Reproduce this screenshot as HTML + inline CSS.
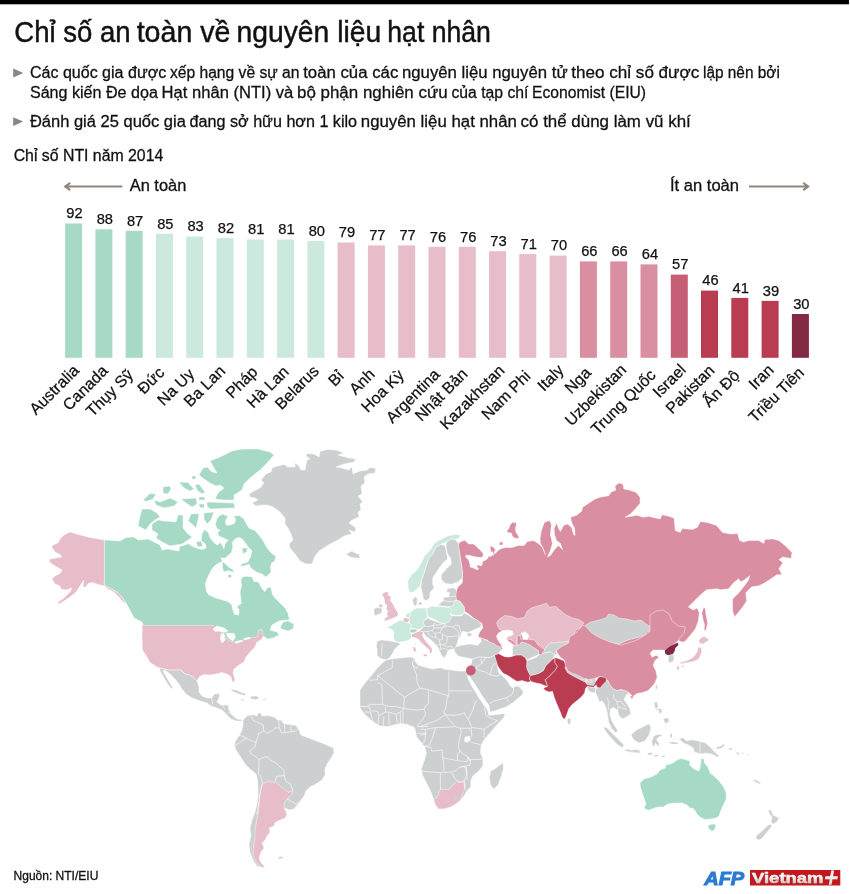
<!DOCTYPE html>
<html lang="vi"><head><meta charset="utf-8"><title>Chỉ số an toàn về nguyên liệu hạt nhân</title>
<style>html,body{margin:0;padding:0;background:#fff}body{width:850px;height:894px;overflow:hidden}svg{display:block}text{font-family:"Liberation Sans",sans-serif;fill:#111}</style></head><body>
<svg width="850" height="894" viewBox="0 0 850 894">
<rect x="0" y="0" width="849" height="4.3" fill="#000"/>
<text y="41.7" font-size="28.6" style="stroke:#111;stroke-width:0.45"><tspan x="14.3" textLength="116.3" lengthAdjust="spacingAndGlyphs">Chỉ số an</tspan> <tspan x="136.7" textLength="93.7" lengthAdjust="spacingAndGlyphs">toàn về</tspan> <tspan x="236.5" textLength="144.7" lengthAdjust="spacingAndGlyphs">nguyên liệu</tspan> <tspan x="387.3" textLength="103.6" lengthAdjust="spacingAndGlyphs">hạt nhân</tspan></text>
<path d="M13.2 68.6 L23.2 73 L13.2 77.4 Z" fill="#8f857d"/>
<text y="78" font-size="17.3" style="stroke:#111;stroke-width:0.3"><tspan x="29.9" textLength="136.3" lengthAdjust="spacingAndGlyphs">Các quốc gia được</tspan> <tspan x="169.9" textLength="129.6" lengthAdjust="spacingAndGlyphs">xếp hạng về sự an</tspan> <tspan x="303.2" textLength="95.1" lengthAdjust="spacingAndGlyphs">toàn của các</tspan> <tspan x="402" textLength="165.6" lengthAdjust="spacingAndGlyphs">nguyên liệu nguyên tử</tspan> <tspan x="571.3" textLength="128" lengthAdjust="spacingAndGlyphs">theo chỉ số được</tspan> <tspan x="703" textLength="76.8" lengthAdjust="spacingAndGlyphs">lập nên bởi</tspan></text>
<text y="97.5" font-size="17.3" style="stroke:#111;stroke-width:0.3"><tspan x="29.9" textLength="128" lengthAdjust="spacingAndGlyphs">Sáng kiến Đe dọa</tspan> <tspan x="161.6" textLength="131.7" lengthAdjust="spacingAndGlyphs">Hạt nhân (NTI) và</tspan> <tspan x="297" textLength="150.7" lengthAdjust="spacingAndGlyphs">bộ phận nghiên cứu</tspan> <tspan x="451.4" textLength="77" lengthAdjust="spacingAndGlyphs">của tạp chí</tspan> <tspan x="532.1" textLength="113.9" lengthAdjust="spacingAndGlyphs">Economist (EIU)</tspan></text>
<path d="M13.2 117.2 L23.2 121.6 L13.2 126 Z" fill="#8f857d"/>
<text y="127.2" font-size="17.3" style="stroke:#111;stroke-width:0.3"><tspan x="29.9" textLength="156" lengthAdjust="spacingAndGlyphs">Đánh giá 25 quốc gia</tspan> <tspan x="189.6" textLength="167.5" lengthAdjust="spacingAndGlyphs">đang sở hữu hơn 1 kilo</tspan> <tspan x="360.8" textLength="156.1" lengthAdjust="spacingAndGlyphs">nguyên liệu hạt nhân</tspan> <tspan x="520.6" textLength="170.2" lengthAdjust="spacingAndGlyphs">có thể dùng làm vũ khí</tspan></text>
<text x="13.7" y="161.1" font-size="16.8" textLength="149.6" lengthAdjust="spacingAndGlyphs" style="stroke:#111;stroke-width:0.3">Chỉ số NTI năm 2014</text>
<text x="129.7" y="191" font-size="16.8" textLength="56.6" lengthAdjust="spacingAndGlyphs" style="stroke:#111;stroke-width:0.3">An toàn</text>
<text x="670" y="191" font-size="16.8" textLength="69" lengthAdjust="spacingAndGlyphs" style="stroke:#111;stroke-width:0.3">Ít an toàn</text>
<g fill="none" stroke="#8f857d" stroke-width="2" stroke-linejoin="miter"><path d="M122.3 186.5H65.8M70.2 182.9L65.2 186.5L70.2 190.1"/><path d="M749 186.5H807.6M803.2 182.9L808.2 186.5L803.2 190.1"/></g>
<rect x="65.1" y="223.5" width="17" height="134.3" fill="#a7dac4"/>
<text x="74.5" y="218.3" font-size="14.7" text-anchor="middle" style="stroke:#111;stroke-width:0.25">92</text>
<text transform="translate(80.0 371.5) rotate(-45)" font-size="16" text-anchor="end" style="stroke:#111;stroke-width:0.25">Australia</text>
<rect x="95.4" y="229.3" width="17" height="128.5" fill="#a7dac4"/>
<text x="104.8" y="224.1" font-size="14.7" text-anchor="middle" style="stroke:#111;stroke-width:0.25">88</text>
<text transform="translate(108.8 371.8) rotate(-45)" font-size="16" text-anchor="end" style="stroke:#111;stroke-width:0.25">Canada</text>
<rect x="125.7" y="230.8" width="17" height="127.0" fill="#a7dac4"/>
<text x="135.1" y="225.6" font-size="14.7" text-anchor="middle" style="stroke:#111;stroke-width:0.25">87</text>
<text transform="translate(134.1 375.9) rotate(-45)" font-size="16" text-anchor="end" style="stroke:#111;stroke-width:0.25">Thụy Sỹ</text>
<rect x="155.9" y="233.7" width="17" height="124.1" fill="#cce9dd"/>
<text x="165.3" y="228.5" font-size="14.7" text-anchor="middle" style="stroke:#111;stroke-width:0.25">85</text>
<text transform="translate(165.3 373.5) rotate(-45)" font-size="16" text-anchor="end" style="stroke:#111;stroke-width:0.25">Đức</text>
<rect x="186.2" y="236.6" width="17" height="121.2" fill="#cce9dd"/>
<text x="195.6" y="231.4" font-size="14.7" text-anchor="middle" style="stroke:#111;stroke-width:0.25">83</text>
<text transform="translate(195.3 375.1) rotate(-45)" font-size="16" text-anchor="end" style="stroke:#111;stroke-width:0.25">Na Uy</text>
<rect x="216.5" y="238.1" width="17" height="119.7" fill="#cce9dd"/>
<text x="225.9" y="232.9" font-size="14.7" text-anchor="middle" style="stroke:#111;stroke-width:0.25">82</text>
<text transform="translate(226.2 372.0) rotate(-45)" font-size="16" text-anchor="end" style="stroke:#111;stroke-width:0.25">Ba Lan</text>
<rect x="246.8" y="239.5" width="17" height="118.3" fill="#cce9dd"/>
<text x="256.2" y="234.3" font-size="14.7" text-anchor="middle" style="stroke:#111;stroke-width:0.25">81</text>
<text transform="translate(258.6 372.9) rotate(-45)" font-size="16" text-anchor="end" style="stroke:#111;stroke-width:0.25">Pháp</text>
<rect x="277.1" y="239.5" width="17" height="118.3" fill="#cce9dd"/>
<text x="286.5" y="234.3" font-size="14.7" text-anchor="middle" style="stroke:#111;stroke-width:0.25">81</text>
<text transform="translate(289.8 372.6) rotate(-45)" font-size="16" text-anchor="end" style="stroke:#111;stroke-width:0.25">Hà Lan</text>
<rect x="307.4" y="241.0" width="17" height="116.8" fill="#cce9dd"/>
<text x="316.8" y="235.8" font-size="14.7" text-anchor="middle" style="stroke:#111;stroke-width:0.25">80</text>
<text transform="translate(319.8 372.1) rotate(-45)" font-size="16" text-anchor="end" style="stroke:#111;stroke-width:0.25">Belarus</text>
<rect x="337.6" y="242.5" width="17" height="115.3" fill="#e6bdc9"/>
<text x="347.0" y="237.3" font-size="14.7" text-anchor="middle" style="stroke:#111;stroke-width:0.25">79</text>
<text transform="translate(344.7 377.1) rotate(-45)" font-size="16" text-anchor="end" style="stroke:#111;stroke-width:0.25">Bỉ</text>
<rect x="367.9" y="245.4" width="17" height="112.4" fill="#e6bdc9"/>
<text x="377.3" y="240.2" font-size="14.7" text-anchor="middle" style="stroke:#111;stroke-width:0.25">77</text>
<text transform="translate(375.9 375.3) rotate(-45)" font-size="16" text-anchor="end" style="stroke:#111;stroke-width:0.25">Anh</text>
<rect x="398.2" y="245.4" width="17" height="112.4" fill="#e6bdc9"/>
<text x="407.6" y="240.2" font-size="14.7" text-anchor="middle" style="stroke:#111;stroke-width:0.25">77</text>
<text transform="translate(404.9 376.2) rotate(-45)" font-size="16" text-anchor="end" style="stroke:#111;stroke-width:0.25">Hoa Kỳ</text>
<rect x="428.5" y="246.8" width="17" height="111.0" fill="#e6bdc9"/>
<text x="437.9" y="241.6" font-size="14.7" text-anchor="middle" style="stroke:#111;stroke-width:0.25">76</text>
<text transform="translate(440.9 375.5) rotate(-45)" font-size="16" text-anchor="end" style="stroke:#111;stroke-width:0.25">Argentina</text>
<rect x="458.8" y="246.8" width="17" height="111.0" fill="#e6bdc9"/>
<text x="468.2" y="241.6" font-size="14.7" text-anchor="middle" style="stroke:#111;stroke-width:0.25">76</text>
<text transform="translate(468.6 374.9) rotate(-45)" font-size="16" text-anchor="end" style="stroke:#111;stroke-width:0.25">Nhật Bản</text>
<rect x="489.1" y="251.2" width="17" height="106.6" fill="#e6bdc9"/>
<text x="498.5" y="246.0" font-size="14.7" text-anchor="middle" style="stroke:#111;stroke-width:0.25">73</text>
<text transform="translate(505.6 371.4) rotate(-45)" font-size="16" text-anchor="end" style="stroke:#111;stroke-width:0.25">Kazakhstan</text>
<rect x="519.3" y="254.1" width="17" height="103.7" fill="#e6bdc9"/>
<text x="528.7" y="248.9" font-size="14.7" text-anchor="middle" style="stroke:#111;stroke-width:0.25">71</text>
<text transform="translate(531.5 377.3) rotate(-45)" font-size="16" text-anchor="end" style="stroke:#111;stroke-width:0.25">Nam Phi</text>
<rect x="549.6" y="255.6" width="17" height="102.2" fill="#e6bdc9"/>
<text x="559.0" y="250.4" font-size="14.7" text-anchor="middle" style="stroke:#111;stroke-width:0.25">70</text>
<text transform="translate(564.7 371.2) rotate(-45)" font-size="16" text-anchor="end" style="stroke:#111;stroke-width:0.25">Italy</text>
<rect x="579.9" y="261.4" width="17" height="96.4" fill="#d98ea1"/>
<text x="589.3" y="256.2" font-size="14.7" text-anchor="middle" style="stroke:#111;stroke-width:0.25">66</text>
<text transform="translate(592.0 373.8) rotate(-45)" font-size="16" text-anchor="end" style="stroke:#111;stroke-width:0.25">Nga</text>
<rect x="610.2" y="261.4" width="17" height="96.4" fill="#d98ea1"/>
<text x="619.6" y="256.2" font-size="14.7" text-anchor="middle" style="stroke:#111;stroke-width:0.25">66</text>
<text transform="translate(627.4 370.8) rotate(-45)" font-size="16" text-anchor="end" style="stroke:#111;stroke-width:0.25">Uzbekistan</text>
<rect x="640.5" y="264.4" width="17" height="93.4" fill="#d98ea1"/>
<text x="649.9" y="259.2" font-size="14.7" text-anchor="middle" style="stroke:#111;stroke-width:0.25">64</text>
<text transform="translate(656.7 376.1) rotate(-45)" font-size="16" text-anchor="end" style="stroke:#111;stroke-width:0.25">Trung Quốc</text>
<rect x="670.8" y="274.6" width="17" height="83.2" fill="#c65f75"/>
<text x="680.2" y="269.4" font-size="14.7" text-anchor="middle" style="stroke:#111;stroke-width:0.25">57</text>
<text transform="translate(686.8 370.8) rotate(-45)" font-size="16" text-anchor="end" style="stroke:#111;stroke-width:0.25">Israel</text>
<rect x="701.0" y="290.6" width="17" height="67.2" fill="#b93c50"/>
<text x="710.4" y="285.4" font-size="14.7" text-anchor="middle" style="stroke:#111;stroke-width:0.25">46</text>
<text transform="translate(715.6 371.4) rotate(-45)" font-size="16" text-anchor="end" style="stroke:#111;stroke-width:0.25">Pakistan</text>
<rect x="731.3" y="297.9" width="17" height="59.9" fill="#b93c50"/>
<text x="740.7" y="292.7" font-size="14.7" text-anchor="middle" style="stroke:#111;stroke-width:0.25">41</text>
<text transform="translate(740.6 376.5) rotate(-45)" font-size="16" text-anchor="end" style="stroke:#111;stroke-width:0.25">Ấn Độ</text>
<rect x="761.6" y="300.9" width="17" height="56.9" fill="#b93c50"/>
<text x="771.0" y="295.7" font-size="14.7" text-anchor="middle" style="stroke:#111;stroke-width:0.25">39</text>
<text transform="translate(774.7 370.9) rotate(-45)" font-size="16" text-anchor="end" style="stroke:#111;stroke-width:0.25">Iran</text>
<rect x="791.9" y="314.0" width="17" height="43.8" fill="#822944"/>
<text x="801.3" y="308.8" font-size="14.7" text-anchor="middle" style="stroke:#111;stroke-width:0.25">30</text>
<text transform="translate(805.0 373.7) rotate(-45)" font-size="16" text-anchor="end" style="stroke:#111;stroke-width:0.25">Triều Tiên</text>
<g id="map" stroke="#fff" stroke-width="0.45" stroke-linejoin="round" fill-rule="evenodd">
<path fill="#d98ea1" d="M509.3,532.7 511.6,533.2 512.1,536.0 514.5,537.9 517.8,538.4 519.2,537.4 517.8,535.1 515.9,532.2 515.4,528.5 516.4,524.7 515.9,522.4 512.6,522.4 510.2,524.7 508.8,528.5 506.9,530.8 507.4,532.2ZM545.4,554.6 542.4,547.5 538.3,543.5 533.3,540.5 527.3,541.5 524.2,545.5 518.2,545.5 512.2,547.5 506.1,547.5 501.1,548.6 498.1,550.6 494.7,553.9 494.2,552.0 495.6,550.1 494.2,548.2 493.2,547.4 493.0,546.5 492.4,546.7 491.9,546.3 490.0,546.8 490.4,547.4 490.0,547.5 491.0,552.6 492.6,551.5 492.8,552.0 493.7,554.7 490.0,556.6 488.0,556.6 488.0,558.6 487.6,558.5 484.8,560.4 482.0,561.8 482.5,564.2 481.0,566.0 478.2,565.1 476.3,566.0 478.7,568.6 477.3,570.0 473.5,568.1 470.2,567.0 469.8,563.2 468.4,559.5 465.5,557.1 466.0,555.2 468.8,555.2 472.6,556.2 476.3,557.1 481.0,557.6 483.4,555.7 482.9,552.9 480.1,550.1 476.3,546.3 473.5,544.0 468.8,544.0 466.5,542.1 465.1,540.2 462.3,541.1 459.4,542.6 458.0,545.4 459.3,551.3 460.8,560.7 462.4,571.7 462.4,582.7 457.7,587.3 455.4,593.6 456.1,599.9 460.1,601.4 464.0,606.9 464.8,611.6 468.7,614.0 473.4,617.9 478.1,621.0 482.0,623.4 482.8,628.1 479.6,632.0 478.1,636.7 482.8,639.0 488.0,640.3 488.0,650.1 650.0,650.1 663.2,650.1 666.1,650.1 670.1,647.3 674.2,644.2 678.2,640.2 682.2,642.2 685.2,641.2 690.3,635.2 695.3,629.1 698.3,621.1 699.3,613.0 697.3,608.0 693.3,610.0 688.3,607.0 694.3,600.9 700.4,594.9 706.4,589.8 716.5,588.8 720.5,589.8 728.6,588.8 733.6,582.8 738.6,578.8 740.6,581.8 744.7,579.8 749.7,575.7 748.7,579.8 743.7,586.8 738.6,592.9 732.6,598.9 732.6,611.0 734.6,617.0 738.6,612.0 742.7,607.0 746.7,600.9 745.7,592.9 748.7,589.8 751.7,586.8 758.8,585.8 764.8,582.8 770.9,578.8 776.9,574.7 781.9,574.7 778.9,568.7 782.9,562.7 778.9,559.6 782.9,557.0 791.0,558.6 792.0,552.6 785.0,545.5 778.9,540.5 772.9,538.9 764.8,539.5 763.8,543.5 758.8,540.5 748.7,540.5 743.7,542.1 739.6,540.5 737.6,533.4 730.6,534.1 722.5,532.4 716.5,525.4 708.4,522.8 700.4,521.4 697.3,527.4 692.3,529.4 682.2,528.4 680.2,532.4 675.2,530.4 674.2,518.3 669.1,516.3 662.1,514.7 660.1,518.9 651.0,516.9 649.1,516.3 643.1,517.3 637.0,515.3 631.0,516.3 625.0,517.3 630.0,514.3 635.0,509.3 640.1,503.2 640.1,497.2 636.0,492.2 629.0,490.1 623.9,489.1 622.9,484.1 618.9,483.1 614.9,486.1 615.9,490.1 610.9,492.2 608.8,495.8 599.8,497.2 594.7,499.2 588.7,503.2 582.7,507.3 581.6,511.3 576.6,515.3 570.6,517.3 571.6,522.4 574.6,528.4 575.0,535.5 573.6,534.5 571.6,527.4 567.5,524.0 563.5,525.4 560.5,531.4 558.5,528.4 556.5,522.8 554.1,528.4 554.5,534.5 556.5,540.5 560.5,543.5 562.5,549.6 558.5,545.5 554.5,549.6 550.4,555.6 547.4,557.0 550.4,550.6 552.4,543.5 550.4,534.5 551.4,524.4 549.4,520.4 544.4,522.4 541.4,530.4 540.0,538.5 540.4,543.5 542.8,547.5ZM503.1,541.5 499.1,542.5 499.7,545.5 502.5,544.9Z"/>
<path fill="#e6bdc9" d="M142.4,622.0 142.0,636.0 142.4,650.0 147.0,657.0 150.0,662.4 157.0,667.0 160.0,668.0 169.0,670.0 181.0,670.0 185.0,674.0 190.0,675.0 194.0,678.0 197.0,681.0 199.0,677.0 204.0,674.4 210.0,675.0 216.0,674.0 222.0,672.4 228.0,674.4 231.0,677.0 232.0,681.0 234.0,682.4 235.0,679.0 233.0,673.0 234.0,669.0 239.0,665.0 244.0,662.0 246.0,657.0 251.0,651.0 255.0,647.0 257.0,642.0 261.0,640.0 263.0,637.0 270.0,622.0Z"/>
<path fill="#cdd0d1" d="M423.8,620.7 422.8,622.8 424.4,626.0 422.8,627.6 419.6,630.8 422.8,631.8 425.4,635.5 427.5,637.6 430.7,639.8 433.9,642.4 436.5,645.6 439.2,649.3 440.8,651.9 442.4,655.6 444.5,657.8 446.6,653.5 447.6,650.9 450.8,649.3 453.5,649.3 456.1,647.2 457.2,642.9 458.8,638.7 459.3,637.6 460.9,635.5 461.4,632.4 463.5,631.3 467.8,632.4 469.9,631.8 474.1,629.7 478.4,628.1 481.5,626.0 480.5,622.8 476.2,619.6 472.0,617.5 467.8,614.9 464.1,612.8 461.9,615.9 457.2,615.9 450.8,615.9 447.1,617.5 445.5,621.8 443.9,623.9 439.2,622.8 433.9,620.7 430.2,619.6 428.1,618.1Z"/>
<path fill="#cdd0d1" stroke="none" d="M563.3,664.7 563.3,669.6 568.2,675.4 576.5,680.4 586.4,685.3 595.4,686.1 595.4,677.6 586.4,677.6 578.1,673.8 569.9,669.6Z"/>
<path fill="#cdd0d1" d="M249.0,494.0 250.0,497.0 255.0,498.0 258.0,500.0 252.0,503.0 256.0,506.0 262.0,505.0 267.0,505.0 273.0,507.0 280.0,512.0 285.0,518.0 285.0,524.0 288.0,528.0 291.0,534.0 293.0,540.0 289.0,544.0 290.0,548.0 295.0,554.0 300.0,561.0 306.0,564.0 312.0,564.0 315.0,556.0 319.0,551.0 324.0,548.0 330.0,544.0 338.0,540.0 344.0,536.0 352.0,534.0 349.0,530.0 355.0,532.0 356.0,528.0 349.0,523.0 352.0,520.0 359.0,517.0 358.0,512.0 361.0,510.0 360.0,504.0 363.0,502.0 358.0,496.0 362.0,494.0 361.0,486.0 365.0,483.0 364.0,477.0 368.0,474.0 375.0,473.0 375.6,468.0 370.0,467.6 367.0,470.0 360.0,471.0 353.0,474.0 352.0,467.0 349.0,470.0 342.0,468.0 336.0,467.0 344.0,464.0 354.0,462.0 355.6,459.0 349.0,458.0 338.0,455.0 344.0,453.0 336.0,450.0 327.0,449.6 320.0,451.6 319.0,457.0 314.0,454.0 307.0,453.6 306.0,456.0 310.0,459.0 307.0,460.0 305.0,470.0 301.0,470.0 299.0,466.0 295.0,463.0 295.0,467.0 287.0,467.0 285.0,464.4 277.0,466.0 272.0,468.0 271.0,472.0 266.0,474.0 261.0,480.0 264.0,483.0 260.0,488.0 254.0,491.0Z"/>
<path fill="#cdd0d1" d="M346.0,554.0 350.0,557.0 355.0,558.0 360.0,558.0 359.0,554.0 355.0,553.0 352.0,551.0Z"/>
<path fill="#cdd0d1" d="M160.0,668.0 159.6,670.0 163.0,676.0 167.0,683.0 171.0,688.4 173.0,688.0 171.0,685.0 167.0,678.0 163.0,671.0 165.0,670.0 170.0,674.0 175.0,679.0 179.0,684.0 182.0,689.0 186.0,694.0 192.0,698.0 200.0,701.0 207.0,703.0 211.0,706.0 217.0,708.0 222.0,710.0 226.0,714.0 231.0,719.0 236.0,721.0 241.6,721.0 242.0,719.6 237.0,719.0 232.0,715.0 229.0,710.0 228.0,705.0 221.0,705.0 217.0,702.0 219.0,698.0 220.0,693.6 214.0,694.0 212.0,698.0 207.0,698.0 202.0,696.0 199.0,692.0 199.0,687.0 197.0,681.0 194.0,678.0 190.0,675.0 185.0,674.0 181.0,670.0 169.0,670.0Z"/>
<path fill="#cdd0d1" d="M230.0,689.0 233.0,691.6 239.0,694.0 245.0,695.6 246.0,694.0 242.0,692.4 236.0,690.0Z"/>
<path fill="#cdd0d1" d="M250.0,696.4 251.0,699.0 256.0,699.6 260.0,698.0 256.0,696.0Z"/>
<path fill="#cdd0d1" d="M241.0,699.0 241.0,700.4 244.0,700.4 244.0,699.0Z"/>
<path fill="#cdd0d1" d="M263.0,699.0 263.0,700.2 266.0,700.2 266.0,699.0Z"/>
<path fill="#cdd0d1" d="M243.0,720.0 243.0,725.0 242.0,730.0 239.0,736.0 236.0,740.0 234.4,745.0 236.0,750.0 240.0,756.0 245.0,764.0 250.0,769.0 256.0,774.0 257.6,780.0 258.0,788.0 258.0,796.0 257.0,804.0 255.0,812.0 252.0,820.0 250.0,828.0 251.0,836.0 249.0,844.0 250.0,852.0 253.0,860.0 257.0,866.0 262.0,867.6 265.0,867.0 261.0,863.0 259.0,858.0 261.0,852.0 264.0,848.0 262.0,843.0 265.0,840.0 267.0,836.0 270.0,832.0 269.0,828.0 274.0,826.0 275.0,822.4 280.0,820.0 285.0,818.0 287.0,814.0 285.0,808.0 289.0,810.0 294.0,809.0 298.0,804.0 301.0,800.0 304.0,796.0 306.0,791.0 310.0,787.0 316.0,784.0 322.0,780.0 325.0,775.0 325.0,769.0 327.0,764.0 331.0,758.0 334.0,753.0 333.6,748.0 330.0,746.4 322.0,743.0 314.0,740.0 306.0,737.0 301.0,735.0 299.0,730.0 296.0,725.6 290.0,724.4 284.0,724.0 281.0,720.0 278.0,720.0 274.0,717.0 268.0,715.6 262.0,716.0 261.0,713.0 258.0,713.0 257.0,716.0 252.0,714.4 247.0,716.0Z"/>
<path fill="#cdd0d1" d="M278.0,857.0 278.4,859.0 283.0,858.6 283.0,856.4Z"/>
<path fill="#cdd0d1" d="M382.2,663.1 378.1,667.1 374.1,672.2 369.1,678.2 364.0,684.2 360.0,690.3 360.0,707.4 363.0,712.4 368.1,717.5 374.1,722.5 380.1,726.1 388.2,726.5 394.2,724.9 400.3,723.5 407.3,724.5 414.4,727.5 415.4,730.6 416.4,736.6 420.4,741.6 424.5,746.7 426.5,752.7 424.5,759.8 421.4,768.8 422.4,774.9 426.5,782.9 430.5,791.0 433.5,799.1 435.5,805.1 438.6,809.1 444.6,808.7 450.6,807.1 455.7,804.1 460.7,800.1 464.7,795.0 466.8,791.0 470.8,787.0 470.8,780.9 472.8,775.9 478.8,770.9 482.9,765.8 482.9,758.8 480.5,752.7 480.9,746.7 482.9,741.6 486.9,736.6 492.9,729.6 499.0,722.5 504.0,717.5 505.0,713.4 497.0,714.5 488.9,715.5 487.9,710.4 482.9,703.4 478.8,696.3 474.8,689.3 470.8,682.2 468.8,675.2 465.7,671.1 458.7,671.1 450.6,670.1 444.6,669.1 440.6,667.7 432.5,669.1 424.5,667.1 418.4,665.1 415.4,662.1 414.4,658.1 410.4,657.0 403.3,657.7 394.2,658.5 386.2,660.1Z"/>
<path fill="#cdd0d1" d="M490.9,770.9 489.3,776.9 490.5,785.0 493.9,789.0 498.0,785.0 501.0,776.9 503.4,768.8 503.0,762.8 500.0,764.8 495.0,768.8Z"/>
<path fill="#cdd0d1" d="M421.7,579.5 420.9,587.3 422.5,593.6 423.3,599.1 426.4,600.7 429.5,598.3 430.3,592.0 434.2,588.1 432.7,584.2 432.7,578.0 435.8,573.3 438.9,568.6 443.6,562.3 447.5,559.2 446.7,553.7 445.2,545.8 440.5,544.3 435.8,547.4 432.7,553.7 428.7,558.4 426.4,565.4 424.0,573.3Z"/>
<path fill="#cdd0d1" d="M446.7,541.9 446.0,546.6 447.5,553.7 450.7,558.4 451.4,563.9 446.7,568.6 441.3,574.8 441.3,579.5 445.2,583.4 451.4,584.2 457.7,581.9 462.4,578.0 462.4,571.7 460.8,560.7 459.3,551.3 458.5,543.5 455.4,539.6 450.7,538.8Z"/>
<path fill="#cdd0d1" d="M438.9,650.0 440.5,653.1 442.0,656.3 444.4,657.8 446.7,653.9 448.3,650.0 443.6,648.4Z"/>
<path fill="#cce9dd" d="M408.4,588.9 409.9,592.4 413.1,592.0 417.0,588.9 420.1,585.8 421.7,579.5 424.0,573.3 426.4,565.4 428.7,558.4 432.7,553.7 435.8,547.4 440.5,544.3 446.7,541.9 450.7,538.8 454.6,539.6 459.3,538.0 460.1,534.9 455.4,534.4 448.3,535.7 440.5,539.6 434.2,543.5 430.3,549.8 424.0,556.8 421.7,562.3 417.0,570.1 411.5,574.8 407.6,581.1Z"/>
<path fill="#cce9dd" d="M451.4,602.2 449.9,606.1 447.5,610.8 449.9,614.0 456.1,615.5 462.4,614.8 464.8,611.6 464.0,606.9 460.1,601.4 456.1,599.9Z"/>
<path fill="#cdd0d1" d="M512.4,648.6 512.4,656.0 515.7,655.2 520.5,655.2 525.1,657.0 527.1,659.8 530.9,658.0 535.5,656.0 538.8,654.2 538.3,650.4 533.7,647.6 529.9,644.8 525.1,642.9 521.3,642.0 519.5,644.8 517.2,645.3 513.4,644.8Z"/>
<path fill="#cdd0d1" d="M526.9,660.8 526.6,667.4 528.1,671.5 530.2,675.6 534.4,674.8 539.3,673.2 543.4,670.7 545.9,665.8 549.2,662.5 552.5,659.2 554.9,655.1 550.8,651.8 545.9,652.6 540.1,654.2 536.0,657.5 531.1,659.2Z"/>
<path fill="#cdd0d1" d="M545.1,649.3 543.4,651.3 540.9,650.1 540.1,654.2 545.9,652.6 550.8,651.8 554.9,655.1 557.4,654.2 555.8,650.9 559.1,648.5 565.6,646.0 568.9,641.1 562.4,641.9 554.9,642.7 550.8,642.7 546.7,646.0Z"/>
<path fill="#cdd0d1" d="M567.3,672.4 568.1,674.3 572.2,677.3 578.8,680.3 585.4,682.2 585.4,679.8 578.8,678.9 572.2,675.6Z"/>
<path fill="#cdd0d1" d="M587.1,679.8 587.4,681.9 592.0,682.2 592.0,680.3Z"/>
<path fill="#cdd0d1" d="M587.1,686.4 587.9,689.6 590.4,692.1 594.5,692.9 596.1,688.8 593.6,687.2Z"/>
<path fill="#cdd0d1" d="M595.7,688.5 595.7,692.5 597.7,697.5 599.7,702.6 601.7,700.6 604.7,704.6 606.8,710.6 607.8,716.7 608.8,722.7 611.8,728.8 615.8,732.8 617.8,730.8 614.8,725.7 611.8,720.7 609.8,714.7 610.8,708.6 613.8,707.6 617.8,710.6 618.8,715.7 622.9,718.7 626.9,716.7 630.9,713.7 629.9,708.6 626.9,703.6 623.9,699.6 625.9,695.5 628.9,692.5 624.9,690.5 620.9,689.5 616.8,690.5 612.8,688.5 609.8,684.5 607.8,680.4 605.7,680.4 601.7,683.4 598.7,687.5Z"/>
<path fill="#cdd0d1" d="M602.7,726.8 606.8,732.8 611.8,738.8 617.8,744.9 622.9,747.9 623.9,744.9 618.8,739.8 612.8,733.8 606.8,727.8Z"/>
<path fill="#cdd0d1" d="M624.9,748.9 625.3,750.9 631.9,752.5 640.0,753.3 641.0,751.9 632.9,749.9Z"/>
<path fill="#cdd0d1" d="M630.9,734.8 633.9,739.8 639.0,742.9 645.0,740.9 649.1,734.8 651.1,727.8 649.1,723.7 643.0,726.8 637.0,729.8Z"/>
<path fill="#cdd0d1" d="M654.1,702.6 654.7,706.6 656.1,709.6 658.1,706.6 657.1,701.6Z"/>
<path fill="#cdd0d1" d="M659.1,708.6 658.7,712.7 661.1,713.7 662.1,709.6Z"/>
<path fill="#cdd0d1" d="M663.2,718.7 665.2,723.7 669.2,721.7 668.2,717.7Z"/>
<path fill="#cdd0d1" d="M655.5,685.5 655.5,689.5 657.1,689.5 657.5,684.5Z"/>
<path fill="#cdd0d1" d="M567.5,718.7 567.3,721.7 568.5,724.7 570.9,723.1 570.5,718.3Z"/>
<path fill="#cdd0d1" d="M679.2,738.8 683.2,742.9 688.3,744.9 693.3,747.9 694.3,751.9 700.4,753.9 705.4,752.9 711.4,753.9 717.5,757.0 719.5,756.0 714.5,751.9 710.4,746.9 705.4,742.9 698.3,740.9 691.3,739.8 686.3,740.9 683.2,737.8Z"/>
<path fill="#cdd0d1" d="M768.0,810.4 769.6,814.0 772.0,817.0 771.0,822.0 773.0,824.0 777.0,822.0 779.0,818.0 773.0,815.0 771.0,810.0Z"/>
<path fill="#cdd0d1" d="M770.0,824.0 766.0,827.0 761.0,832.0 756.0,836.0 756.4,839.0 760.0,840.0 764.0,836.0 768.0,831.0 772.0,826.0Z"/>
<path fill="#cdd0d1" d="M753.0,779.0 755.0,782.0 759.6,784.0 761.0,783.0 756.0,780.0Z"/>
<path fill="#cdd0d1" d="M648.0,753.0 648.4,754.4 652.4,754.0 653.0,752.4Z"/>
<path fill="#cdd0d1" d="M630.0,750.0 634.0,752.4 641.0,752.0 638.0,749.6Z"/>
<path fill="#cdd0d1" d="M585.7,625.1 588.7,630.1 591.7,635.2 596.8,637.2 604.8,640.2 612.9,643.2 618.9,644.2 625.0,641.2 631.0,639.2 639.1,637.2 645.1,635.2 647.1,632.1 652.1,630.1 651.1,627.1 646.1,624.1 641.1,620.1 635.0,621.1 627.0,619.1 618.9,618.0 613.9,615.0 608.8,614.0 605.8,618.0 598.8,620.1 590.7,622.1Z"/>
<path fill="#e6bdc9" d="M496.5,622.9 498.1,627.1 499.8,629.5 502.6,630.7 508.2,630.2 512.4,631.2 513.4,634.5 508.0,636.1 506.4,637.8 507.2,639.4 510.5,639.4 512.9,641.1 514.8,642.4 517.2,645.3 517.7,635.8 519.5,636.9 521.2,632.8 525.3,632.0 528.6,635.3 529.4,639.4 532.7,640.2 536.0,642.7 540.9,646.0 545.1,649.3 546.7,646.0 550.8,642.7 554.9,642.7 562.4,641.9 568.9,641.1 571.4,638.6 573.9,634.5 575.5,630.4 581.3,627.1 583.8,622.9 578.8,619.6 572.2,618.0 565.6,614.7 560.7,610.6 555.8,606.5 549.2,607.3 546.7,603.2 539.3,605.6 531.1,608.1 526.9,611.4 524.5,617.2 517.9,618.8 511.3,616.4 504.7,615.5 498.9,619.6Z"/>
<path fill="#d98ea1" d="M517.2,635.8 517.2,645.3 519.5,644.8 521.3,642.0 525.1,642.9 529.9,644.8 533.7,647.6 538.3,650.4 538.8,654.2 541.1,655.2 544.9,649.5 541.1,647.6 538.3,645.7 534.5,640.1 528.9,639.2 520.5,639.2 520.5,635.8Z"/>
<path fill="#b93c50" d="M494.0,655.1 494.8,659.2 496.5,664.1 499.8,669.1 503.1,673.2 508.0,675.6 512.9,678.9 517.1,681.4 522.0,680.6 527.8,682.2 531.1,681.4 529.4,678.9 530.2,675.6 528.1,671.5 526.6,667.4 526.9,660.8 525.3,657.5 521.2,655.1 516.2,655.1 510.5,656.7 504.7,656.7 498.1,653.4Z"/>
<path fill="#b93c50" d="M530.2,675.6 529.4,678.9 531.1,681.4 536.0,683.1 540.9,683.9 544.2,685.5 547.5,686.4 546.7,683.1 545.1,679.8 548.4,677.3 551.6,674.0 554.9,670.7 557.4,666.6 554.9,662.5 554.9,657.5 552.5,659.2 549.2,662.5 545.9,665.8 543.4,670.7 539.3,673.2 534.4,674.8Z"/>
<path fill="#b93c50" d="M554.9,657.5 554.9,662.5 557.4,666.6 554.9,670.7 551.6,674.0 548.4,677.3 545.1,679.8 546.7,683.1 547.5,686.4 543.4,688.0 545.1,690.5 549.2,692.1 552.5,691.3 554.1,697.1 556.6,703.6 559.9,711.1 562.4,717.6 564.8,719.3 566.5,715.2 568.9,708.6 572.2,704.5 577.2,700.4 581.3,697.1 584.6,692.9 585.4,688.8 587.1,686.4 593.6,687.2 596.1,684.7 596.9,687.2 600.2,688.0 602.7,684.7 606.0,681.4 607.6,677.3 602.7,675.6 598.6,677.3 595.3,682.2 593.6,685.5 587.1,684.7 585.4,682.2 578.8,678.9 572.2,675.6 567.3,672.4 564.8,667.4 566.5,665.8 564.0,660.8 558.2,658.4Z"/>
<path fill="#d98ea1" d="M650.0,631.8 645.0,635.1 639.0,639.1 630.9,642.2 620.9,645.2 610.8,642.2 602.7,639.1 596.7,636.1 590.6,632.1 586.6,627.0 582.6,625.0 579.6,629.1 574.5,634.1 569.5,637.1 568.5,643.2 562.4,646.2 556.4,650.2 557.4,653.2 560.4,657.3 564.5,660.3 565.5,665.3 567.5,670.4 572.5,673.4 578.6,675.4 583.6,678.4 588.6,679.4 594.7,678.4 599.7,676.4 604.7,677.4 607.8,680.4 609.8,684.5 612.8,688.5 616.8,690.5 620.9,689.5 624.9,690.5 628.9,692.5 632.5,696.1 630.5,696.1 630.5,698.6 632.9,698.6 633.3,696.3 637.0,693.5 643.0,692.5 648.0,690.5 652.1,686.5 655.1,682.4 657.1,677.4 656.1,671.4 653.1,665.3 655.1,660.3 659.1,657.3 656.1,655.2 652.1,657.3 650.1,653.2 653.2,650.1 658.8,650.1 659.1,650.2 659.5,650.1 666.1,650.1 668.8,648.2 670.0,648.2 674.2,644.2 674.2,644.2 678.2,640.2 678.2,640.2 678.3,640.1 680.3,637.1 684.2,633.2 684.3,633.1 685.3,627.0 678.3,626.0 672.2,621.0 672.1,621.0 669.1,614.0 663.1,610.0 656.0,611.0 650.0,615.0Z"/>
<path fill="#a7dac4" d="M640.0,783.0 640.4,787.0 642.0,792.0 644.0,798.0 646.0,804.0 644.0,808.0 648.0,810.4 652.0,809.0 658.0,807.0 663.0,807.0 668.0,804.0 675.0,803.0 682.0,803.0 687.0,805.0 690.0,808.0 694.0,809.0 697.0,814.0 700.0,817.0 705.0,819.6 710.0,819.0 716.0,818.0 719.0,816.0 721.0,810.0 724.0,804.0 726.4,798.0 726.0,792.0 723.0,786.0 719.0,781.0 714.0,776.0 710.0,773.0 708.0,767.0 705.0,764.0 703.6,758.4 701.0,759.0 700.4,766.0 699.0,771.0 694.0,769.0 689.6,765.0 690.0,761.0 687.0,760.0 681.0,758.4 677.0,760.0 672.0,763.6 666.0,765.0 665.0,768.0 660.0,770.0 657.0,774.0 651.0,777.0 644.0,779.0Z"/>
<path fill="#a7dac4" d="M707.6,825.6 709.0,829.0 712.0,831.6 715.0,829.0 716.0,824.4 712.0,824.0Z"/>
<path fill="#e6bdc9" d="M438.6,792.0 438.2,795.0 436.5,798.0 433.5,799.1 435.5,805.1 438.6,809.1 444.6,808.7 450.6,807.1 455.7,804.1 460.7,800.1 461.7,795.0 464.3,791.0 464.7,787.0 463.7,781.9 456.7,781.9 452.7,785.0 448.6,790.0 440.6,789.0Z"/>
<path fill="#e6bdc9" d="M262.4,783.6 261.0,790.0 259.6,798.0 259.0,806.0 258.0,814.0 256.4,822.0 255.0,830.0 255.0,838.0 253.6,846.0 253.0,854.0 255.0,860.0 258.0,864.0 262.0,867.6 265.0,867.0 261.0,863.0 259.0,858.0 261.0,852.0 264.0,848.0 262.0,843.0 265.0,840.0 267.0,836.0 270.0,832.0 269.0,828.0 274.0,826.0 275.0,822.4 280.0,820.0 285.0,818.0 287.0,814.0 284.0,809.0 284.4,802.0 288.0,798.0 292.0,794.0 293.0,790.0 289.0,792.4 285.0,790.0 280.0,786.0 276.0,782.4 268.0,781.6Z"/>
<path fill="#ffffff" d="M496.5,636.3 497.5,639.2 499.3,642.0 501.2,644.8 502.1,648.6 501.6,652.4 504.0,656.0 508.2,657.0 512.4,656.0 512.0,652.4 512.4,648.6 513.4,644.8 511.1,642.9 508.2,641.1 506.4,639.2 507.3,636.8 510.1,636.0 513.4,634.5 512.4,631.2 508.2,630.2 502.6,630.7 498.3,633.0Z"/>
<path fill="#ffffff" d="M521.2,633.2 523.2,639.4 527.8,639.4 528.9,635.3 525.3,632.0Z"/>
<path fill="#e6bdc9" d="M70.0,532.0 64.0,535.0 60.0,539.0 58.0,543.0 53.0,545.0 51.6,547.0 55.0,552.0 60.0,554.4 62.0,557.0 56.0,558.0 50.0,559.0 49.0,561.0 52.0,564.0 57.0,567.0 62.0,570.0 60.0,573.6 55.0,576.0 52.0,579.0 55.0,584.0 60.0,586.0 61.0,589.0 66.0,590.0 72.0,588.0 70.0,592.0 64.0,598.0 57.6,602.4 59.0,604.0 64.0,601.0 70.0,597.0 76.0,592.0 80.0,586.0 83.6,580.0 83.0,587.0 86.0,587.0 88.0,583.6 92.0,582.4 98.0,584.4 104.4,586.0 108.0,589.0 114.0,592.0 119.0,597.0 123.6,602.4 126.0,603.0 122.0,597.0 117.0,592.0 110.0,588.0 104.4,585.6 104.4,540.0 88.0,537.0 78.0,534.4Z"/>
<path fill="#a7dac4" d="M192.0,476.0 192.0,479.0 195.6,479.0 195.6,476.0ZM179.0,482.0 184.0,488.0 190.0,491.0 194.0,489.0 188.0,482.4ZM195.0,485.0 197.0,490.0 202.0,494.0 205.0,492.0 199.0,484.0ZM170.0,486.0 163.0,487.0 163.0,493.0 168.0,494.0 171.0,489.0ZM143.0,500.0 146.0,501.6 153.0,499.0 156.0,494.0 150.0,493.6ZM181.0,499.0 186.0,503.0 192.0,507.0 197.0,504.0 196.0,498.0ZM178.0,502.0 170.0,498.0 160.0,502.0 154.0,500.0 156.0,505.0 164.0,508.0 174.0,506.0ZM155.0,520.0 160.0,517.0 157.0,513.0 150.0,509.0 142.0,509.0 140.0,516.0 138.0,526.0 146.0,530.0 150.0,524.0ZM199.0,513.6 191.0,514.0 188.0,521.0 192.0,524.0 196.0,528.0 198.0,520.0ZM162.0,542.0 170.0,546.0 176.0,545.0 182.0,544.0 188.0,540.0 192.0,537.0 188.0,534.0 183.0,528.0 183.0,515.0 178.0,515.0 176.0,522.0 164.0,521.0 158.0,520.0 152.0,524.0 152.0,530.0 158.0,534.0 156.0,538.0ZM198.0,547.0 203.0,546.0 201.0,541.0 196.0,542.0ZM126.0,603.0 130.0,610.0 134.0,618.0 142.0,622.0 144.0,625.4 180.0,625.4 181.0,625.4 213.0,625.4 220.0,631.0 228.0,640.0 233.0,642.0 240.0,641.0 248.0,638.4 257.0,637.0 259.0,630.0 262.0,629.6 262.4,635.0 266.0,638.0 268.0,639.0 273.0,638.0 279.0,635.0 277.0,632.0 270.0,630.0 272.0,625.0 279.0,621.0 286.0,620.0 289.4,620.0 288.0,612.9 286.7,611.5 286.0,609.0 279.0,602.0 275.6,598.6 272.7,594.9 271.0,588.0 268.6,587.2 268.2,586.8 268.1,587.0 268.0,587.0 267.9,587.3 264.7,591.8 261.9,588.2 258.4,581.9 253.7,581.2 252.0,576.6 250.0,576.7 246.4,576.2 242.1,576.9 242.1,578.3 241.0,580.0 241.6,586.3 240.0,591.8 240.7,597.4 241.4,603.8 241.3,603.8 237.0,606.0 237.8,606.8 237.2,607.3 239.0,609.7 239.0,612.2 238.6,615.1 234.4,614.4 232.9,610.1 232.1,606.7 232.0,606.0 231.9,605.9 231.5,604.5 228.0,601.6 220.9,599.5 215.6,597.9 209.0,595.0 208.8,595.0 206.1,590.4 205.4,583.3 208.2,576.2 211.1,570.6 213.9,566.4 218.1,563.5 222.4,561.4 221.1,558.2 225.2,557.9 228.0,555.8 231.5,552.2 232.9,546.6 232.2,542.4 235.1,538.8 239.3,537.4 242.1,538.8 244.9,542.4 247.8,546.6 252.0,550.8 250.6,556.5 247.8,562.1 240.7,564.2 242.1,566.4 249.2,564.2 250.6,567.8 256.2,572.0 261.9,574.1 266.1,576.9 271.1,572.0 270.4,567.1 271.8,562.8 274.6,561.4 276.0,556.5 270.4,552.2 266.1,546.6 263.3,540.9 259.1,535.3 254.8,530.4 249.2,528.2 246.4,524.0 243.5,518.4 239.3,515.5 233.6,516.2 235.8,519.8 234.4,523.3 230.8,524.7 226.6,525.4 225.2,521.2 228.0,516.2 222.4,514.1 218.1,516.9 216.7,519.8 215.3,524.0 216.7,528.2 220.2,530.4 217.4,532.5 218.8,536.0 223.8,538.1 228.0,540.2 225.2,543.8 223.8,548.7 222.4,545.2 220.2,542.4 217.4,545.2 213.9,542.4 210.4,538.1 208.2,532.5 204.7,529.6 201.9,533.9 201.2,540.9 205.4,543.8 206.1,548.0 202.6,549.4 198.4,548.7 192.7,546.6 188.5,543.8 184.2,545.2 179.3,546.6 179.3,550.4 178.0,551.0 168.0,549.0 162.0,550.0 160.0,545.0 148.0,539.0 138.0,540.0 134.0,537.0 126.0,537.6 120.0,541.0 104.4,540.0 104.4,585.6 110.0,588.0 117.0,592.0 122.0,597.0ZM220.9,557.9 221.2,557.4 221.0,558.0ZM207.0,467.0 203.0,468.0 199.0,475.0 204.0,479.0 210.0,483.0 216.0,486.0 220.0,485.0 224.0,488.0 218.0,493.0 215.0,499.0 224.0,500.0 234.0,500.0 234.0,495.0 242.0,490.0 244.0,484.0 250.0,478.0 260.0,470.0 268.0,462.0 274.0,455.0 270.0,452.0 258.0,449.0 242.0,449.0 232.0,451.0 220.0,457.0 210.0,461.0 214.0,468.0 217.0,473.0 212.0,472.0ZM199.0,500.0 205.0,500.0 205.0,497.0 199.0,497.0ZM207.0,502.0 207.0,506.0 210.0,509.0 235.0,508.0 234.0,503.0ZM199.0,504.0 199.6,507.6 204.4,508.0 204.0,504.0ZM204.0,513.0 204.0,519.0 207.0,524.0 211.0,520.0 214.0,512.0ZM242.1,548.0 242.8,553.6 246.4,552.2 247.8,548.0ZM234.4,570.6 229.4,567.8 225.2,563.5 222.4,561.4 222.4,567.8 223.8,572.0 228.0,570.6 232.2,572.0ZM228.0,574.8 228.0,577.6 231.5,577.6 231.5,574.8ZM294.0,624.0 288.0,621.0 283.0,622.0 280.0,628.0 282.0,629.0 288.0,631.0 293.0,629.0Z"/>
<path fill="#ffffff" d="M213.0,629.0 215.0,631.6 219.0,631.0 224.0,632.4 228.0,631.0 224.0,628.0 217.0,626.0Z"/>
<path fill="#ffffff" d="M221.0,634.0 220.4,639.0 222.0,643.0 225.0,640.0 224.0,633.6Z"/>
<path fill="#ffffff" d="M226.0,633.0 227.6,637.0 230.0,639.0 233.0,641.0 235.6,637.0 234.0,633.6Z"/>
<path fill="#ffffff" d="M235.0,642.0 236.0,643.4 242.6,641.2 242.0,640.0Z"/>
<path fill="#ffffff" d="M244.0,638.2 244.4,639.8 250.0,638.8 250.0,637.2Z"/>
<path fill="#cdd0d1" d="M472.1,659.0 471.3,663.4 469.6,667.5 467.2,672.5 466.4,674.9 470.5,677.4 472.9,682.4 477.1,689.8 481.2,696.4 485.3,702.9 489.4,708.7 490.2,712.0 496.0,710.4 505.9,707.1 512.5,702.9 517.4,698.8 522.4,694.7 523.2,691.4 519.1,686.5 514.9,685.6 512.5,688.1 510.0,685.6 507.5,680.7 503.4,676.6 498.5,672.5 496.8,662.6 494.4,655.2 489.4,657.6 479.5,656.8Z"/>
<path fill="#cdd0d1" d="M454.0,648.6 454.8,651.9 458.1,656.0 464.7,657.6 472.1,659.0 479.5,656.8 489.4,657.6 494.4,655.2 496.8,654.4 500.9,651.1 500.1,646.9 496.8,645.8 494.4,643.8 489.4,641.7 484.5,639.2 480.0,637.7 481.2,641.2 477.9,645.3 469.6,644.1 461.4,645.3 455.6,646.9Z"/>
<path fill="#ffffff" stroke="none" d="M464.7,737.0 464.4,741.6 467.9,742.4 470.8,739.5 469.4,736.0Z"/>
<path fill="#cdd0d1" stroke="none" d="M467.2,633.4 467.8,635.7 469.9,636.6 472.0,635.0 470.4,632.9Z"/>
<path fill="#ffffff" stroke="none" d="M466.9,676.5 469.1,681.3 471.2,685.5 473.8,689.8 476.5,694.0 479.6,699.3 482.8,703.5 486.0,707.8 487.6,710.7 490.0,709.9 489.2,705.6 486.5,701.4 483.4,697.2 480.7,692.9 478.1,688.7 475.4,684.5 472.8,680.8 470.6,678.1 469.1,676.0Z"/>
<path fill="#ffffff" stroke="none" d="M505.9,679.0 507.2,681.3 510.4,684.5 513.5,687.1 515.6,686.6 518.3,685.0 519.4,683.2 515.6,682.0 511.4,681.5 507.2,679.9Z"/>
<path fill="#cdd0d1" d="M447.3,588.5 446.6,592.0 449.7,592.7 448.7,596.9 443.1,597.4 443.8,600.5 440.9,602.6 438.1,605.4 442.4,606.1 448.0,606.8 452.9,606.1 453.6,602.6 456.5,600.5 455.8,596.2 456.5,590.6 454.4,587.8Z"/>
<path fill="#d98ea1" d="M703.5,607.6 701.8,612.9 702.9,618.8 704.5,624.7 704.1,630.0 705.9,630.6 707.6,623.5 707.1,620.0 705.9,614.1 705.3,608.2Z"/>
<path fill="#e6bdc9" d="M698.2,647.1 697.1,651.8 694.1,656.5 689.4,659.4 684.7,661.2 680.0,662.4 680.6,664.1 684.7,662.9 689.4,662.4 694.1,661.2 698.2,659.4 700.0,656.5 701.8,651.8 701.2,647.6Z"/>
<path fill="#e6bdc9" d="M701.2,637.6 698.8,640.6 699.4,642.9 702.4,644.1 705.3,642.4 708.8,640.6 708.2,638.8 704.1,636.5Z"/>
<path fill="#e6bdc9" d="M676.5,666.5 677.4,670.6 679.4,669.4 678.8,665.9Z"/>
<path fill="#e6bdc9" d="M681.2,665.9 681.4,667.3 684.1,666.8 684.1,665.3Z"/>
<path fill="#cdd0d1" d="M668.8,655.3 668.2,660.0 669.4,662.9 672.9,661.8 674.1,658.2 673.5,654.7Z"/>
<path fill="#822944" stroke="none" d="M664.7,650.4 665.4,653.9 668.2,655.3 672.9,654.1 674.8,650.8 675.3,648.0 678.4,644.9 677.6,642.4 674.4,644.2 669.4,646.8Z"/>
<path fill="#e6bdc9" stroke="none" d="M411.1,634.7 412.1,637.1 415.9,637.6 418.7,639.5 421.6,642.8 424.5,645.6 427.3,648.0 429.7,649.9 429.7,652.3 430.6,653.7 432.1,650.9 431.6,648.0 428.7,644.7 425.9,641.8 423.5,638.0 422.1,635.2 423.0,632.8 420.6,630.9 418.3,631.8 414.5,633.3Z"/>
<path fill="#e6bdc9" stroke="none" d="M413.0,647.1 414.0,651.8 415.9,651.3 415.4,647.5Z"/>
<path fill="#e6bdc9" stroke="none" d="M423.0,654.2 424.0,656.1 426.8,656.6 427.3,654.7Z"/>
<path fill="#cce9dd" d="M414.5,642.8 414.5,645.2 415.6,645.6 415.9,643.3Z"/>
<path fill="#e6bdc9" stroke="none" d="M382.1,594.3 383.5,596.6 384.5,599.5 385.0,603.3 387.4,605.7 386.4,608.5 388.3,611.4 386.9,614.2 388.3,616.6 385.5,618.0 384.0,620.9 388.8,619.5 392.6,618.0 396.4,616.6 398.3,614.2 396.9,611.4 394.5,607.6 392.6,603.8 390.2,600.5 390.7,596.6 387.8,595.2 388.8,592.4 385.5,591.9Z"/>
<path fill="#e6bdc9" stroke="none" d="M378.8,605.2 379.7,607.6 382.6,607.1 381.6,604.3Z"/>
<path fill="#cdd0d1" d="M374.0,608.5 374.0,613.3 375.0,615.7 379.3,614.2 382.1,612.3 382.1,608.5 379.7,607.8 377.4,607.6Z"/>
<path fill="#cce9dd" d="M386.9,626.6 388.3,628.0 392.1,629.5 394.0,632.3 393.5,637.1 394.5,640.9 398.3,642.3 402.1,641.8 405.9,640.9 409.7,639.5 411.6,637.1 411.1,633.3 409.7,631.4 410.7,628.5 411.6,624.7 409.7,623.3 405.9,622.3 403.0,620.9 400.2,620.0 396.4,622.3 392.6,624.2 390.7,626.1Z"/>
<path fill="#cce9dd" d="M410.2,612.8 409.7,616.6 408.8,619.0 409.2,620.9 409.7,623.3 411.6,624.7 410.7,628.5 412.6,628.5 416.4,629.0 419.2,629.5 422.6,627.6 424.9,625.7 423.0,622.8 424.5,620.0 427.8,616.6 426.8,612.3 425.9,608.1 416.8,608.1 413.5,609.5Z"/>
<path fill="#cce9dd" d="M405.9,614.7 406.4,617.6 408.3,618.0 409.7,616.6 410.2,612.8 408.3,612.8Z"/>
<path fill="#e6bdc9" d="M402.6,619.0 404.0,621.9 406.9,622.8 409.2,620.9 408.8,619.0 405.9,617.6Z"/>
<path fill="#a7dac4" d="M409.5,630.9 410.7,632.8 414.5,632.8 417.3,630.9 416.4,629.3 411.6,629.0Z"/>
<path fill="#cce9dd" d="M426.8,608.5 426.8,612.3 427.8,616.6 431.6,618.0 435.4,620.0 440.1,622.8 445.0,623.8 448.7,622.3 450.1,620.4 451.6,616.6 450.1,614.2 451.6,610.4 449.7,607.6 445.0,607.1 438.2,606.4 431.6,606.2Z"/>
<path fill="#cdd0d1" d="M412.6,599.0 413.0,602.8 414.5,606.2 416.8,604.7 417.3,599.0 415.9,596.6Z"/>
<path fill="#cdd0d1" d="M418.3,602.4 418.7,604.9 422.1,604.7 421.6,601.9Z"/>
<path fill="#cdd0d1" d="M376.9,641.4 376.4,646.6 377.4,650.4 376.9,655.1 379.3,657.5 382.1,659.0 386.9,659.4 390.2,657.1 392.6,653.2 394.5,649.4 397.3,646.6 400.7,644.2 397.3,642.3 392.6,641.4 386.9,640.4 381.2,639.9Z"/>
<path fill="#cdd0d1" stroke="none" d="M670.4,733.2 670.4,737.4 671.8,738.1 672.2,733.9Z"/>
<path fill="#cdd0d1" stroke="none" d="M652.0,740.9 652.7,745.2 654.1,746.6 655.5,742.4 657.6,745.9 659.1,743.8 656.2,739.5 658.4,737.0 662.6,735.3 658.4,734.6 654.1,736.0Z"/>
<path fill="#cdd0d1" stroke="none" d="M647.8,753.4 647.8,754.8 652.0,754.4 652.0,752.9Z"/>
<path fill="#cdd0d1" stroke="none" d="M654.1,755.3 654.1,756.5 658.4,756.2 658.4,754.8Z"/>
<path fill="#cdd0d1" stroke="none" d="M661.9,756.2 661.9,757.2 664.7,756.8 664.7,755.3Z"/>
<path fill="#cdd0d1" stroke="none" d="M668.2,742.4 671.8,743.8 677.8,744.0 678.1,743.1 673.2,742.1Z"/>
<path fill="#cdd0d1" stroke="none" d="M716.2,747.3 716.9,748.7 721.2,748.3 724.4,745.5 724.0,744.0 720.5,746.6Z"/>
<path fill="#cdd0d1" stroke="none" d="M728.9,748.3 728.9,749.7 732.0,749.7 732.0,748.3Z"/>
<path fill="#cdd0d1" stroke="none" d="M736.7,752.2 736.3,753.4 738.8,754.4 739.5,753.4Z"/>
<path fill="#cdd0d1" stroke="none" d="M740.9,752.0 743.1,754.2 743.8,753.4Z"/>
<path fill="#cdd0d1" stroke="none" d="M747.3,754.4 748.4,755.9 749.0,755.1Z"/>
<path fill="#cdd0d1" stroke="none" d="M656.9,708.8 657.2,709.9 661.2,710.2 661.2,709.2Z"/>
<path fill="none" stroke="#fff" stroke-width="0.6" d="M392.4,660.6 392.4,667.6 388.2,669.8 377.6,675.7M369.1,680.4 377.6,679.6 377.6,675.7M377.6,675.7 404.4,697.3 419.9,688.1 417.1,682.5 416.4,674.0 412.2,664.1 413.6,658.5M412.2,664.1 416.4,669.1 417.8,665.5M448.9,671.2 448.9,690.9 472.2,690.9M419.9,688.1 427.7,689.5 448.9,695.9 448.9,690.9M377.6,682.5 381.8,684.6 382.5,704.4 369.1,704.4 368.4,706.5M382.5,704.4 388.9,706.5 395.9,706.5 403.7,708.6 404.4,697.3M403.7,708.6 408.6,709.3 417.1,710.0 424.2,709.3 425.6,705.8 428.4,703.6 428.4,690.2M445.4,709.3 447.5,696.6 448.9,695.9M424.2,709.3 425.6,714.2 422.8,719.2 417.1,726.2M359.9,706.5 369.1,706.5 370.5,710.7 377.6,711.4 379.0,715.6 377.6,726.9M363.5,712.1 370.5,712.1 373.4,723.4M388.9,712.1 388.9,725.5M395.9,714.2 397.4,723.4M400.2,712.1 400.5,723.4M403.0,710.7 403.0,723.4M385.4,712.1 388.9,712.1 395.9,714.2 400.2,712.1 403.7,708.6M379.0,715.6 385.4,712.1 385.4,706.5M417.1,733.3 425.6,733.3 424.9,740.4 421.4,746.0M417.1,726.2 421.4,726.9 428.4,726.2M383.2,726.2 383.9,716.4M422.1,771.3 440.4,772.7 443.2,772.0M440.4,772.7 440.4,790.4M461.6,766.4 465.8,767.8 466.5,774.8 464.4,780.5 460.2,782.6M451.7,772.7 455.2,779.1 460.2,782.6M464.4,780.5 465.1,790.4M420.0,726.5 427.1,724.1 435.9,720.8 445.3,714.7 443.5,711.8 445.4,709.3M445.3,714.7 454.1,715.3 461.2,714.1 464.5,712.6 465.3,715.3 468.2,719.4 471.8,727.6M468.2,719.4 472.9,710.0 475.3,701.8 477.6,700.6M445.3,714.7 450.0,720.6 455.3,726.7M425.3,729.4 435.3,727.6 444.7,727.4 455.3,726.7 460.6,728.2 471.2,728.2 471.8,727.6 484.1,729.1 490.6,724.7 497.6,720.8 489.4,717.6 485.9,715.3 484.7,709.4 484.1,707.6M484.1,729.1 484.1,737.1 485.3,738.8M471.2,728.2 471.8,735.9 470.6,737.1M460.6,728.2 461.2,732.4 459.4,739.4 458.2,746.5 460.0,751.2 462.9,754.1 467.1,755.9 469.4,760.6 471.2,759.4 482.4,759.4M470.6,742.4 481.2,744.7M468.2,757.1 470.6,760.6 470.0,765.3M442.4,757.6 450.6,759.4 457.6,760.6 457.6,754.1 460.0,751.2M457.6,760.6 467.1,761.8 468.2,757.1M423.5,746.5 431.2,747.6 431.8,751.2 437.1,750.6 442.4,750.0 442.4,757.6 443.5,760.6 444.1,772.4M435.3,727.6 432.9,737.1 429.4,745.3 423.5,746.5M420.0,735.3 425.9,734.1 425.3,729.4M444.1,772.4 448.2,772.4 455.3,771.2 458.8,767.6 465.9,765.9 470.0,765.3M465.9,765.9 467.1,772.4 467.1,780.0M420.0,729.4 425.3,729.4M251.1,714.9 253.2,720.5 258.2,722.6 263.1,724.8 263.8,731.1 258.9,733.2M235.6,736.8 240.5,735.4 246.2,738.2 251.8,741.0 256.1,742.4 258.9,733.2M234.9,745.9 239.1,743.1 246.2,738.2M263.8,731.1 267.4,733.2 271.6,731.1 274.4,728.3 279.4,727.6 278.6,719.8M279.4,727.6 281.5,733.2 285.0,732.5 291.4,731.8 295.6,731.1 297.7,729.0M285.0,732.5 284.3,724.8M291.4,731.8 290.6,725.5M256.1,742.4 254.6,747.4 249.7,750.9 251.8,754.4 257.5,757.9 258.9,759.4M258.9,759.4 264.5,757.2 267.4,756.5 270.2,760.1 275.8,762.9 280.1,767.1 283.6,769.2 284.3,775.6 276.5,776.3 275.1,781.2M258.9,759.4 258.9,767.1 258.2,774.2 260.3,774.9 262.4,782.6M284.3,775.6 285.7,781.2 290.6,784.1 292.8,789.7M287.1,798.9 295.6,803.8 298.4,802.4M262.4,782.6 261.0,788.3 259.6,795.4 258.9,802.4 257.5,809.5 256.8,815.0M424.4,626.0 428.6,626.5 432.8,625.5 434.9,622.8M432.8,625.5 433.9,628.1 431.8,630.8 427.5,631.3 422.8,631.8M432.8,625.5 443.9,623.9M433.9,628.1 442.4,627.6 444.5,625.5M431.8,630.8 434.9,633.4 440.2,632.4 442.4,627.6M442.4,627.6 446.6,626.0 452.9,627.1 457.2,630.2 459.3,634.5 458.8,638.7M440.2,632.4 442.4,634.5 447.6,636.6 452.9,636.6 457.2,635.5 459.3,637.6M434.9,633.4 436.0,637.6 439.2,639.8 442.4,639.8 442.4,634.5M427.5,631.3 428.6,634.5 431.8,636.6 436.0,637.6M439.2,639.8 440.2,644.0 443.4,645.1 446.6,642.9 447.6,636.6M440.2,644.0 440.8,649.3M443.4,645.1 447.6,647.2 450.8,646.1 452.9,647.7M443.9,623.9 446.6,626.0M452.9,627.1 455.1,624.9 459.3,626.0 460.9,632.4M436.5,645.6 439.2,644.5 440.2,644.0M486.0,656.9 481.8,663.3 478.6,665.4 475.9,667.5 479.6,670.7 484.9,671.8 490.2,674.9 496.6,676.0 499.8,674.9M480.7,658.5 481.8,663.3M475.9,667.5 472.8,671.8M489.7,703.5 494.5,700.9 500.8,699.3 506.1,697.7 511.4,695.1 513.5,690.8 513.5,687.1M506.1,697.7 509.3,702.5M490.2,674.9 492.4,666.5 495.5,662.8M448.7,596.9 456.2,596.2M443.8,600.8 450.8,601.6 456.2,600.5M700.0,741.0 700.0,753.6M211.8,698.7 212.6,704.5M216.7,701.2 220.8,705.3M222.5,704.5 224.9,709.4M227.4,711.9 232.4,714.4M382.1,643.3 381.6,656.1M606.9,697.5 609.1,702.5 608.0,706.7 609.1,710.2M613.3,694.0 614.0,698.2 616.8,701.8 620.4,701.1 623.2,703.9 626.0,707.4M616.8,701.8 618.2,706.7 621.8,708.1 626.7,709.5M618.2,706.7 616.8,711.6M586.0,678.2 586.4,683.2"/>
<circle cx="470.8" cy="670.5" r="4.9" fill="#c65f75" stroke="none"/>
<circle cx="456.2" cy="798.4" r="2.4" fill="#cdd0d1" stroke="none"/>
<circle cx="464.1" cy="790.8" r="1.2" fill="#cdd0d1" stroke="none"/>
</g>
<text x="13.6" y="880.1" font-size="12.6" textLength="84.7" lengthAdjust="spacingAndGlyphs" style="fill:#111;stroke:#111;stroke-width:0.3">Nguồn: NTI/EIU</text>
<defs><linearGradient id="vg" x1="0" y1="0" x2="0" y2="1"><stop offset="0" stop-color="#ffffff"/><stop offset="0.45" stop-color="#f4f4f4"/><stop offset="1" stop-color="#b9b9b9"/></linearGradient></defs>
<text x="704.2" y="884.9" font-size="18.6" font-weight="bold" font-style="italic" textLength="40" lengthAdjust="spacingAndGlyphs" style="fill:#2b7bd0;stroke:#2b7bd0;stroke-width:1">AFP</text>
<rect x="750" y="870" width="90.3" height="15.5" fill="#c4181f"/>
<text x="752" y="882.9" font-size="13.9" font-weight="bold" textLength="71.5" lengthAdjust="spacingAndGlyphs" style="fill:url(#vg);stroke:url(#vg);stroke-width:0.5">Vietnam</text>
<text x="823.5" y="887.3" font-size="28" font-weight="bold" textLength="14.5" lengthAdjust="spacingAndGlyphs" transform="skewX(-10) translate(155.5 0)" style="fill:url(#vg)">+</text>
</svg></body></html>
